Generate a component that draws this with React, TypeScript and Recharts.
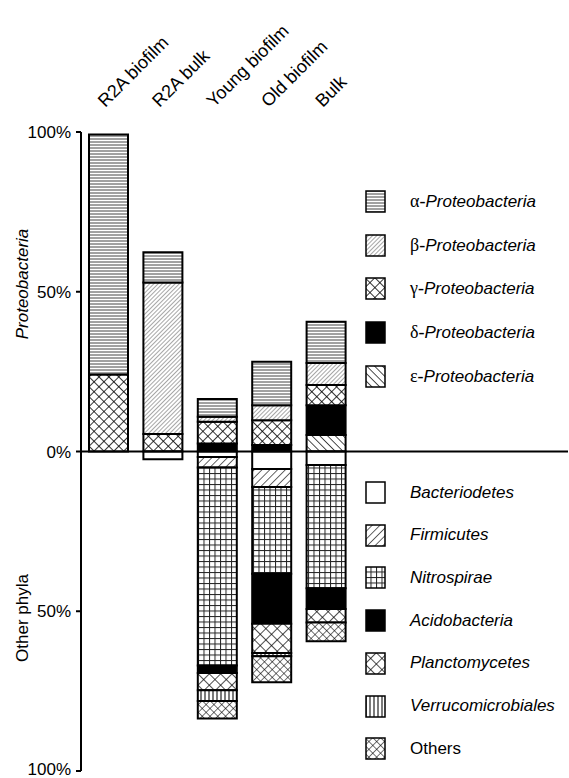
import { Bar, BarChart, ReferenceLine, XAxis, YAxis } from "recharts";

const categories = ["R2A biofilm", "R2A bulk", "Young biofilm", "Old biofilm", "Bulk"];

// Proteobacteria classes, % of clones (plotted above zero)
const alpha = [75.1, 9.5, 5.5, 13.6, 12.9];
const beta = [0, 47.4, 1.6, 4.7, 6.9];
const gamma = [24.1, 5.5, 6.8, 7.8, 6.3];
const delta = [0, 0, 2.5, 2.0, 9.3];
const epsilon = [0, 0, 0, 0, 5.2];

// other phyla, % of clones (plotted below zero)
const bacteroidetes = [0, 2.4, 1.7, 5.5, 4.2];
const firmicutes = [0, 0, 3.3, 5.6, 0];
const nitrospirae = [0, 0, 62.0, 27.2, 38.6];
const acidobacteria = [0, 0, 2.3, 15.6, 6.5];
const planctomycetes = [0, 0, 5.4, 9.2, 4.2];
const verrucomicrobiales = [0, 0, 3.4, 1.0, 0];
const others = [0, 0, 5.5, 8.1, 5.9];

const yTicks = [-100, -50, 0, 50, 100];

const SANS = "'Liberation Sans', Arial, Helvetica, sans-serif";
const SERIF = "'Liberation Serif', 'Times New Roman', serif";

type Series = {
  key: string;
  greek?: string;
  label: string;
  italic: boolean;
  values: number[];
  fill: string;
  sign: 1 | -1;
};

// legend order
const proteo: Series[] = [
  { key: "alpha", greek: "α", label: "Proteobacteria", italic: true, values: alpha, fill: "url(#p-alpha)", sign: 1 },
  { key: "beta", greek: "β", label: "Proteobacteria", italic: true, values: beta, fill: "url(#p-beta)", sign: 1 },
  { key: "gamma", greek: "γ", label: "Proteobacteria", italic: true, values: gamma, fill: "url(#p-gamma)", sign: 1 },
  { key: "delta", greek: "δ", label: "Proteobacteria", italic: true, values: delta, fill: "#000", sign: 1 },
  { key: "epsilon", greek: "ε", label: "Proteobacteria", italic: true, values: epsilon, fill: "url(#p-eps)", sign: 1 },
];

const phyla: Series[] = [
  { key: "bact", label: "Bacteriodetes", italic: true, values: bacteroidetes, fill: "#fff", sign: -1 },
  { key: "firm", label: "Firmicutes", italic: true, values: firmicutes, fill: "url(#p-firm)", sign: -1 },
  { key: "nitro", label: "Nitrospirae", italic: true, values: nitrospirae, fill: "url(#p-nitro)", sign: -1 },
  { key: "acido", label: "Acidobacteria", italic: true, values: acidobacteria, fill: "#000", sign: -1 },
  { key: "planc", label: "Planctomycetes", italic: true, values: planctomycetes, fill: "url(#p-planc)", sign: -1 },
  { key: "verru", label: "Verrucomicrobiales", italic: true, values: verrucomicrobiales, fill: "url(#p-verru)", sign: -1 },
  { key: "others", label: "Others", italic: false, values: others, fill: "url(#p-others)", sign: -1 },
];

// stacking order away from zero: epsilon sits on the axis, alpha on top
const stackOrder = [...proteo].reverse().concat(phyla);

const data = categories.map((name, i) => {
  const row: Record<string, string | number> = { name };
  stackOrder.forEach((s) => {
    row[s.key] = s.sign * s.values[i];
  });
  return row;
});

const Patterns = () => (
  <svg width={0} height={0} style={{ position: "absolute" }}>
    <defs>
      <pattern id="p-alpha" width={8} height={3} patternUnits="userSpaceOnUse">
        <rect width={8} height={3} fill="#fff" />
        <line x1={0} y1={1} x2={8} y2={1} stroke="#444" strokeWidth={1} />
      </pattern>
      <pattern id="p-beta" width={3} height={3} patternUnits="userSpaceOnUse" patternTransform="rotate(45)">
        <rect width={3} height={3} fill="#fff" />
        <line x1={0} y1={0} x2={0} y2={3} stroke="#222" strokeWidth={0.8} />
      </pattern>
      <pattern id="p-gamma" width={7} height={7} patternUnits="userSpaceOnUse" patternTransform="rotate(45)">
        <rect width={7} height={7} fill="#fff" />
        <line x1={0} y1={0} x2={0} y2={7} stroke="#000" strokeWidth={1.6} />
        <line x1={0} y1={0} x2={7} y2={0} stroke="#000" strokeWidth={1.6} />
      </pattern>
      <pattern id="p-eps" width={5.5} height={5.5} patternUnits="userSpaceOnUse" patternTransform="rotate(-45)">
        <rect width={5.5} height={5.5} fill="#fff" />
        <line x1={0} y1={0} x2={0} y2={5.5} stroke="#000" strokeWidth={1.4} />
      </pattern>
      <pattern id="p-firm" width={5.5} height={5.5} patternUnits="userSpaceOnUse" patternTransform="rotate(45)">
        <rect width={5.5} height={5.5} fill="#fff" />
        <line x1={0} y1={0} x2={0} y2={5.5} stroke="#000" strokeWidth={1.2} />
      </pattern>
      <pattern id="p-nitro" width={5.5} height={5.5} patternUnits="userSpaceOnUse">
        <rect width={5.5} height={5.5} fill="#fff" />
        <line x1={0.5} y1={0} x2={0.5} y2={5.5} stroke="#222" strokeWidth={1} />
        <line x1={0} y1={0.5} x2={5.5} y2={0.5} stroke="#222" strokeWidth={1} />
      </pattern>
      <pattern id="p-planc" width={8} height={8} patternUnits="userSpaceOnUse" patternTransform="rotate(45)">
        <rect width={8} height={8} fill="#fff" />
        <line x1={0} y1={0} x2={0} y2={8} stroke="#000" strokeWidth={1.4} />
        <line x1={0} y1={0} x2={8} y2={0} stroke="#000" strokeWidth={1.4} />
      </pattern>
      <pattern id="p-verru" width={4} height={10} patternUnits="userSpaceOnUse">
        <rect width={4} height={10} fill="#fff" />
        <line x1={1} y1={0} x2={1} y2={10} stroke="#222" strokeWidth={1.2} />
      </pattern>
      <pattern id="p-others" width={5.5} height={5.5} patternUnits="userSpaceOnUse" patternTransform="rotate(45)">
        <rect width={5.5} height={5.5} fill="#fff" />
        <line x1={0} y1={0} x2={0} y2={5.5} stroke="#000" strokeWidth={1.1} />
        <line x1={0} y1={0} x2={5.5} y2={0} stroke="#000" strokeWidth={1.1} />
      </pattern>
    </defs>
  </svg>
);

const CategoryTick = ({ x, y, payload }: any) => (
  <g transform={`translate(${x - 3},${y - 16})`}>
    <text transform="rotate(-45)" textAnchor="start" fontSize={18} fontFamily={SANS} fill="#000">
      {payload.value}
    </text>
  </g>
);

// percent labels on both halves; the bottom one is nudged up to stay inside the page
const PercentTick = ({ x, y, payload }: any) => (
  <text
    x={x}
    y={payload.value === -100 ? y - 2 : y}
    dy="0.355em"
    textAnchor="end"
    fontSize={17}
    fontFamily={SANS}
    fill="#000"
  >
    {`${Math.abs(payload.value)}%`}
  </text>
);

const LegendRow = ({ s, top }: { s: Series; top: number }) => (
  <div style={{ position: "absolute", left: 365, top, height: 23, display: "flex", alignItems: "center" }}>
    <svg width={22} height={23}>
      <rect x={1} y={1} width={19} height={21} fill={s.fill} stroke="#000" strokeWidth={1.5} />
    </svg>
    <span style={{ marginLeft: 23, fontSize: 17, whiteSpace: "nowrap" }}>
      {s.greek && <span style={{ fontFamily: SERIF, fontSize: 18 }}>{s.greek}-</span>}
      <span style={{ fontFamily: SANS, fontStyle: s.italic ? "italic" : "normal" }}>{s.label}</span>
    </span>
  </div>
);

const App = () => (
  <div style={{ position: "absolute", left: 0, top: 0, width: 569, height: 778, background: "#fff", fontFamily: SANS }}>
    <Patterns />
    <BarChart
      width={569}
      height={778}
      data={data}
      stackOffset="sign"
      margin={{ top: 102, right: 1, bottom: 7, left: 0 }}
    >
      <XAxis
        dataKey="name"
        orientation="top"
        height={30}
        axisLine={false}
        tickLine={false}
        interval={0}
        padding={{ left: 0, right: 215 }}
        tick={<CategoryTick />}
      />
      <YAxis
        type="number"
        domain={[-100, 100]}
        ticks={yTicks}
        width={81}
        tickSize={5}
        tickMargin={5}
        interval={0}
        axisLine={{ stroke: "#000", strokeWidth: 2 }}
        tickLine={{ stroke: "#000", strokeWidth: 2 }}
        tick={<PercentTick />}
      />
      {stackOrder.map((s) => (
        <Bar
          key={s.key}
          dataKey={s.key}
          stackId="clones"
          barSize={39}
          fill={s.fill}
          stroke="#000"
          strokeWidth={2}
          isAnimationActive={false}
        />
      ))}
      <ReferenceLine y={0} stroke="#000" strokeWidth={2} />
    </BarChart>
    <svg width={569} height={778} style={{ position: "absolute", left: 0, top: 0, pointerEvents: "none" }}>
      <text transform="translate(28,284) rotate(-90)" textAnchor="middle" fontSize={17} fontStyle="italic" fontFamily={SANS}>
        Proteobacteria
      </text>
      <text transform="translate(28,618) rotate(-90)" textAnchor="middle" fontSize={17} fontFamily={SANS}>
        Other phyla
      </text>
    </svg>
    {proteo.map((s, i) => (
      <LegendRow key={s.key} s={s} top={190 + i * 43.7} />
    ))}
    {phyla.map((s, i) => (
      <LegendRow key={s.key} s={s} top={481 + i * 42.7} />
    ))}
  </div>
);

export default App;
